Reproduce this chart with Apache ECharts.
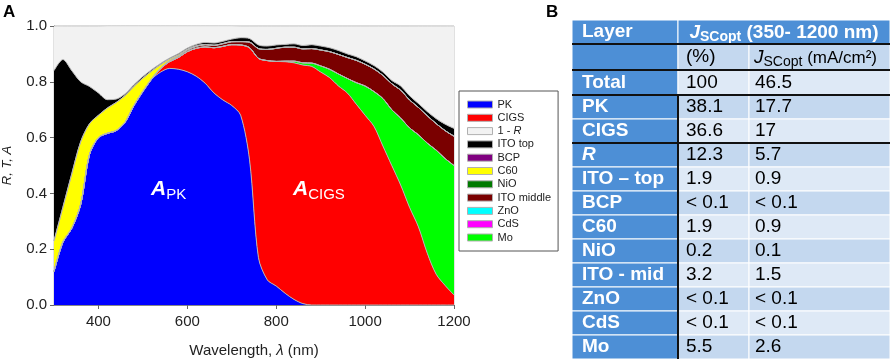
<!DOCTYPE html>
<html><head><meta charset="utf-8">
<script src="https://cdn.jsdelivr.net/npm/echarts@6/dist/echarts.min.js"></script>
<style>html,body{margin:0;padding:0;background:#fff}#c{width:892px;height:363px}</style>
</head><body><div id="c"></div>
<script>
// ---------- Chart A data (absorptance per layer, stacked) ----------
const wavelengths = [300,320,340,360,380,400,420,440,460,480,500,520,540,560,580,600,620,640,660,680,700,720,740,760,780,800,820,840,860,880,900,920,940,960,980,1000,1020,1040,1060,1080,1100,1120,1140,1160,1180,1200];
const PK      = [0.12,0.225,0.275,0.36,0.54,0.60,0.615,0.625,0.655,0.715,0.765,0.81,0.835,0.848,0.845,0.836,0.82,0.795,0.76,0.735,0.715,0.68,0.52,0.17,0.09,0.068,0.042,0.02,0.005,0,0,0,0,0,0,0,0,0,0,0,0,0,0,0,0,0];
const CIGS    = [0,0,0,0,0,0,0,0,0,0,0,0,0.012,0.024,0.042,0.072,0.10,0.13,0.162,0.192,0.218,0.252,0.402,0.714,0.786,0.805,0.83,0.848,0.855,0.855,0.835,0.815,0.785,0.76,0.72,0.68,0.64,0.57,0.50,0.43,0.35,0.28,0.185,0.11,0.07,0.036];
const Mo      = [0,0,0,0,0,0,0,0,0,0,0,0,0,0,0,0,0,0,0,0,0,0,0,0,0,0,0.002,0.006,0.008,0.012,0.022,0.03,0.043,0.052,0.077,0.105,0.125,0.17,0.20,0.24,0.285,0.33,0.395,0.445,0.455,0.464];
const CdS     = [0,0,0,0,0,0,0,0,0,0,0,0,0,0,0,0,0,0,0,0,0,0,0,0,0,0,0,0,0,0,0,0,0,0,0,0,0,0,0,0,0,0,0,0,0,0];
const ZnO     = [0,0,0,0,0,0,0,0,0,0,0,0,0,0,0,0,0,0,0,0,0,0,0,0,0,0,0,0,0,0,0,0,0,0,0,0,0,0,0,0,0,0,0,0,0,0];
const ITOmid  = [0,0,0,0,0,0,0,0,0,0,0,0.001,0.002,0.003,0.004,0.005,0.006,0.007,0.008,0.009,0.01,0.012,0.02,0.035,0.04,0.047,0.05,0.05,0.05,0.052,0.057,0.063,0.07,0.075,0.08,0.078,0.081,0.083,0.093,0.10,0.10,0.098,0.098,0.095,0.10,0.105];
const NiO     = [0,0,0,0,0,0,0.001,0.001,0.001,0.001,0.001,0.001,0.001,0.001,0.001,0.001,0.001,0.001,0.001,0.001,0.001,0,0,0,0,0,0,0,0,0,0,0,0,0,0,0,0,0,0,0,0,0,0,0,0,0];
const C60     = [0.11,0.125,0.195,0.225,0.11,0.08,0.09,0.10,0.095,0.068,0.047,0.027,0.012,0.006,0.005,0.003,0.002,0.001,0,0,0,0,0,0,0,0,0,0,0,0,0,0,0,0,0,0,0,0,0,0,0,0,0,0,0,0];
const BCP     = [0,0,0,0,0,0,0,0,0,0,0,0,0,0,0,0,0,0,0,0,0,0,0,0,0,0,0,0,0,0,0,0,0,0,0,0,0,0,0,0,0,0,0,0,0,0];
const ITOtop  = [0.61,0.53,0.37,0.215,0.133,0.08,0.03,0.012,0.006,0.006,0.006,0.005,0.004,0.003,0.004,0.004,0.005,0.007,0.008,0.008,0.009,0.014,0.013,0.013,0.012,0.012,0.01,0.012,0.012,0.014,0.014,0.014,0.014,0.013,0.013,0.012,0.012,0.012,0.012,0.015,0.015,0.014,0.015,0.018,0.023,0.028];
const Refl    = [0.16,0.12,0.16,0.20,0.217,0.24,0.265,0.263,0.244,0.211,0.182,0.157,0.135,0.116,0.10,0.08,0.067,0.06,0.062,0.056,0.048,0.042,0.045,0.068,0.072,0.068,0.066,0.064,0.07,0.067,0.072,0.078,0.088,0.10,0.11,0.125,0.142,0.165,0.195,0.215,0.25,0.278,0.307,0.332,0.352,0.367];
const xTickValues = [400,600,800,1000,1200];
const legendOrder = ['PK','CIGS','1 - R','ITO top','BCP','C60','NiO','ITO middle','ZnO','CdS','Mo'];

// ---------- Table B data ----------
const tableLayers = ['Total','PK','CIGS','R','ITO \u2013 top','BCP','C60','NiO','ITO - mid','ZnO','CdS','Mo'];
const tablePct    = ['100','38.1','36.6','12.3','1.9','< 0.1','1.9','0.2','3.2','< 0.1','< 0.1','5.5'];
const tableJsc    = ['46.5','17.7','17','5.7','0.9','< 0.1','0.9','0.1','1.5','< 0.1','< 0.1','2.6'];

const FF = '"Liberation Sans", Arial, Helvetica, sans-serif';
const layers = [
  ['PK', PK, '#0000ff'], ['CIGS', CIGS, '#ff0000'], ['Mo', Mo, '#00ff00'],
  ['CdS', CdS, '#ff00ff'], ['ZnO', ZnO, '#00ffff'], ['ITO middle', ITOmid, '#7a0000'],
  ['NiO', NiO, '#007a00'], ['C60', C60, '#ffff00'], ['BCP', BCP, '#800080'],
  ['ITO top', ITOtop, '#000000'], ['1 - R', Refl, '#f2f2f2']
];
const series = layers.map(([name, arr, color]) => ({
  name, type: 'line', stack: 'all', smooth: 0.3, symbol: 'none', showSymbol: false,
  data: arr,
  itemStyle: { color },
  lineStyle: { color: name === '1 - R' ? '#c8c8c8' : '#b4b4b4', width: 1 },
  areaStyle: { color, opacity: 1 },
  emphasis: { disabled: true }
}));
const isTick = (i, v) => xTickValues.indexOf(Number(v)) >= 0;

// ---------- Table graphics ----------
const g = [];
const colX = [572, 678, 749, 890];
const rowY = [20, 44, 70, 95, 119, 143, 167, 191, 215, 239, 263, 287, 311, 335, 359];
const BLUE = '#4d8fd6', L1 = '#c4d8ef', L2 = '#dee9f6';
function rect(x, y, w, h, fill) {
  g.push({ type: 'rect', shape: { x, y, width: w, height: h }, style: { fill, stroke: '#ffffff', lineWidth: 1 } });
}
function txt(x, y, text, opts) {
  g.push({ type: 'text', x, y, style: Object.assign({ text, fill: '#000', fontFamily: FF, fontSize: 19,
    align: 'left', verticalAlign: 'middle', textAlign: 'left', textVerticalAlign: 'middle' }, opts) });
}
function line(x1, y1, x2, y2) {
  g.push({ type: 'line', shape: { x1, y1, x2, y2 }, style: { stroke: '#111', lineWidth: 2 } });
}
rect(colX[0], rowY[0], colX[1]-colX[0], rowY[1]-rowY[0], BLUE);
rect(colX[1], rowY[0], colX[3]-colX[1], rowY[1]-rowY[0], BLUE);
rect(colX[0], rowY[1], colX[1]-colX[0], rowY[2]-rowY[1], BLUE);
rect(colX[1], rowY[1], colX[2]-colX[1], rowY[2]-rowY[1], L1);
rect(colX[2], rowY[1], colX[3]-colX[2], rowY[2]-rowY[1], L1);
for (let r = 0; r < tableLayers.length; r++) {
  const y0 = rowY[r+2], h = rowY[r+3] - y0;
  const bg = r % 2 === 0 ? L2 : L1;
  rect(colX[0], y0, colX[1]-colX[0], h, BLUE);
  rect(colX[1], y0, colX[2]-colX[1], h, bg);
  rect(colX[2], y0, colX[3]-colX[2], h, bg);
}
const sub = { fontSize: 14, lineHeight: 15, verticalAlign: 'bottom' };
txt(582, (rowY[0]+rowY[1])/2, 'Layer', { fill: '#fff', fontWeight: 'bold' });
txt((colX[1]+colX[3])/2, (rowY[0]+rowY[1])/2 + 1, '{j|J}{s|SCopt}{n| (350- 1200 nm)}', {
  fill: '#fff', fontWeight: 'bold', align: 'center', textAlign: 'center',
  rich: { j: { fontSize: 19, fontStyle: 'italic', fontWeight: 'bold', lineHeight: 22, fill: '#fff', fontFamily: FF },
          s: Object.assign({ fontWeight: 'bold', fill: '#fff', fontFamily: FF }, sub),
          n: { fontSize: 19, fontWeight: 'bold', lineHeight: 22, fill: '#fff', fontFamily: FF } } });
txt(686, (rowY[1]+rowY[2])/2, '(%)', {});
txt(754, (rowY[1]+rowY[2])/2 + 1, '{j|J}{s|SCopt}{n| (mA/cm\u00b2)}', {
  rich: { j: { fontSize: 19, fontStyle: 'italic', lineHeight: 22, fill: '#000', fontFamily: FF },
          s: Object.assign({ fill: '#000', fontFamily: FF }, sub),
          n: { fontSize: 17, lineHeight: 22, fill: '#000', fontFamily: FF } } });
for (let r = 0; r < tableLayers.length; r++) {
  const cy = (rowY[r+2] + rowY[r+3]) / 2;
  txt(582, cy, tableLayers[r], { fill: '#fff', fontWeight: 'bold', fontStyle: tableLayers[r] === 'R' ? 'italic' : 'normal' });
  txt(686, cy, tablePct[r], {});
  txt(755, cy, tableJsc[r], {});
}
line(colX[0], rowY[1], colX[3], rowY[1]);
line(colX[0], rowY[2], colX[3], rowY[2]);
line(colX[0], rowY[3], colX[3], rowY[3]);
line(colX[0], rowY[5], colX[3], rowY[5]);
line(colX[1], rowY[3], colX[1], rowY[14]);

g.push({ type: 'text', x: 3, y: 12, style: { text: 'A', fontFamily: FF, fontSize: 17, fontWeight: 'bold', fill: '#000', verticalAlign: 'middle', textVerticalAlign: 'middle' } });
g.push({ type: 'text', x: 546, y: 12, style: { text: 'B', fontFamily: FF, fontSize: 17, fontWeight: 'bold', fill: '#000', verticalAlign: 'middle', textVerticalAlign: 'middle' } });
const apRich = {
  a: { fontSize: 21, fontWeight: 'bold', fontStyle: 'italic', lineHeight: 26, fill: '#fff', fontFamily: FF },
  b: { fontSize: 15, lineHeight: 13, verticalAlign: 'bottom', fill: '#fff', fontFamily: FF }
};
g.push({ type: 'text', x: 151, y: 176, z: 100, style: { text: '{a|A}{b|PK}', rich: apRich, verticalAlign: 'top', textVerticalAlign: 'top' } });
g.push({ type: 'text', x: 293, y: 176, z: 100, style: { text: '{a|A}{b|CIGS}', rich: apRich, verticalAlign: 'top', textVerticalAlign: 'top' } });

const chart = echarts.init(document.getElementById('c'), null, { renderer: 'canvas' });
chart.setOption({
  animation: false,
  backgroundColor: '#ffffff',
  grid: { left: 54, top: 26, width: 400, height: 279, show: true, borderColor: '#c4c4c4', borderWidth: 1, backgroundColor: 'transparent' },
  legend: {
    data: legendOrder, orient: 'vertical', left: 459, top: 91,
    icon: 'rect', itemWidth: 25, itemHeight: 7, itemGap: 0.3,
    padding: [7, 7, 7, 8], backgroundColor: '#fff', borderColor: '#555', borderWidth: 1,
    selectedMode: false,
    itemStyle: { borderColor: '#b0b0b0', borderWidth: 1 },
    formatter: n => n === '1 - R' ? '1 - {i|R}' : n,
    textStyle: { fontFamily: FF, fontSize: 11, color: '#222', lineHeight: 13,
      rich: { i: { fontStyle: 'italic', fontSize: 11, fontFamily: FF, color: '#222', lineHeight: 13 } } }
  },
  xAxis: {
    type: 'category', data: wavelengths.map(String), boundaryGap: false,
    name: 'Wavelength, {l|\u03bb} (nm)', nameLocation: 'middle', nameGap: 38,
    nameTextStyle: { fontFamily: FF, fontSize: 15, color: '#222', rich: { l: { fontStyle: 'italic', fontFamily: FF, fontSize: 15, color: '#222' } } },
    axisLine: { lineStyle: { color: '#888', width: 1 } },
    axisTick: { show: true, interval: isTick, length: 4, alignWithLabel: true, lineStyle: { color: '#666' } },
    axisLabel: { interval: isTick, fontFamily: FF, fontSize: 15, color: '#222', margin: 9 },
    splitLine: { show: false }
  },
  yAxis: {
    type: 'value', min: 0, max: 1, interval: 0.2,
    name: 'R, T, A', nameLocation: 'middle', nameGap: 40, nameRotate: 90,
    nameTextStyle: { fontFamily: FF, fontSize: 13, fontStyle: 'italic', color: '#222' },
    axisLine: { show: true, lineStyle: { color: '#666', width: 1 } },
    axisTick: { show: true, length: 4, lineStyle: { color: '#666' } },
    axisLabel: { formatter: v => v.toFixed(1), fontFamily: FF, fontSize: 15, color: '#222', margin: 7 },
    splitLine: { show: false }
  },
  series,
  graphic: g
});
</script></body></html>
